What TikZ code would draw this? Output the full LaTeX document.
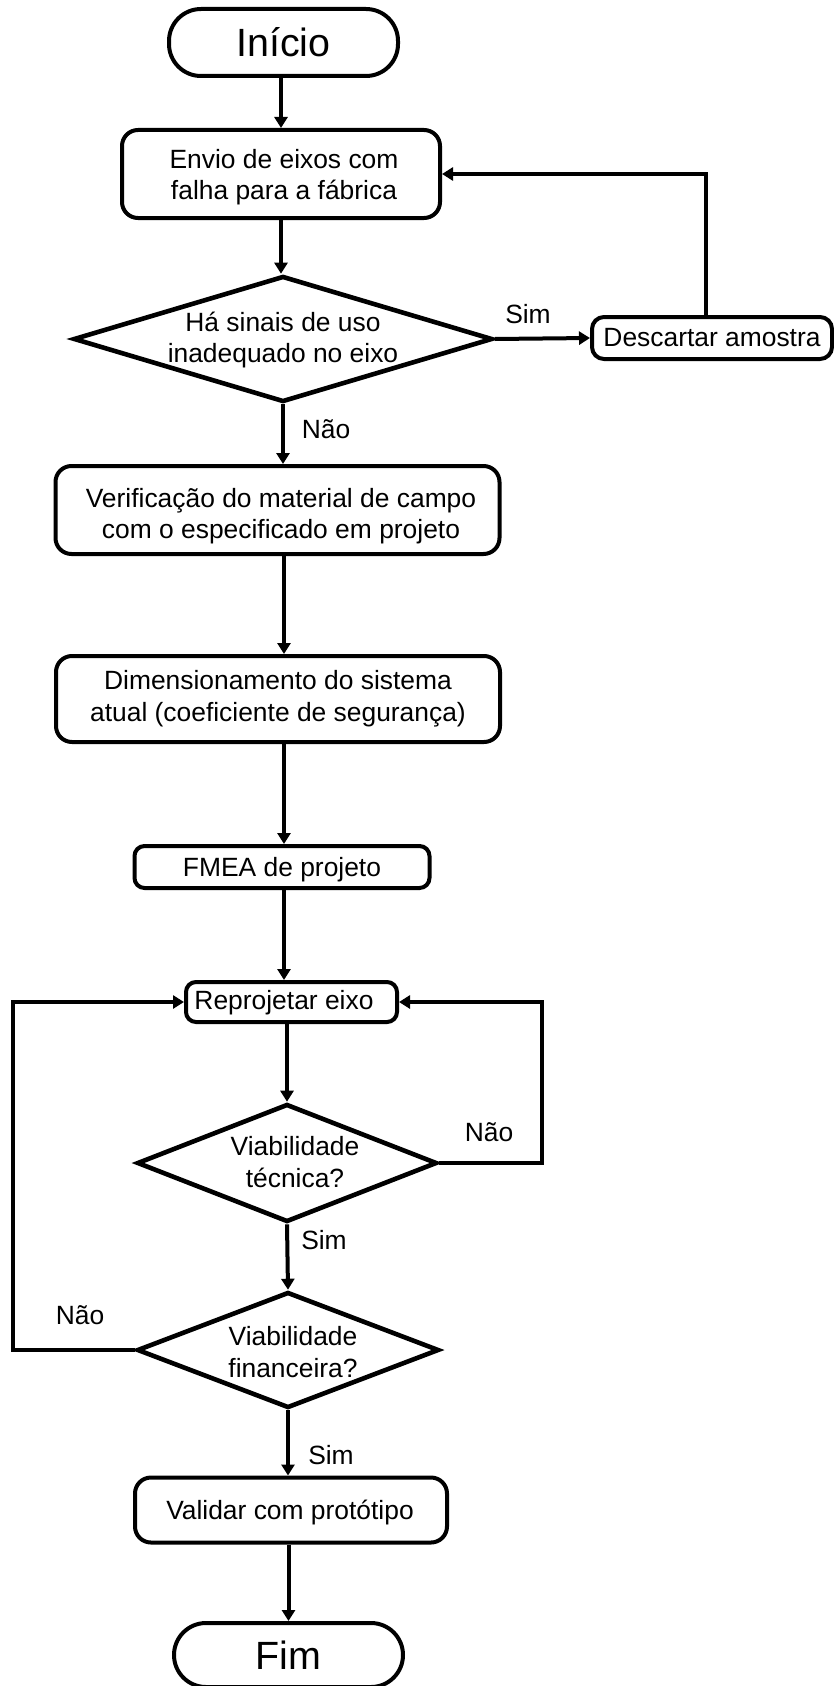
\documentclass[tikz,border=0pt]{standalone}
\usepackage{fontspec}
\setmainfont{Liberation Sans}
\usetikzlibrary{shapes.geometric,arrows.meta,calc}
\begin{document}
\begin{tikzpicture}[x=0.5pt,y=-0.5pt,
  txt/.style={font=\fontsize{13.2}{15.8}\selectfont,align=center,inner sep=0pt},
  big/.style={font=\fontsize{19.7}{23}\selectfont},
  box/.style={txt,draw,line width=2pt,rounded corners=8pt},
  term/.style={box,big,rounded corners=16pt},
  dec/.style={draw,diamond,line width=2.3pt,inner sep=0pt},
  conn/.style={line width=2pt,-{Triangle[length=5.5pt,width=6.5pt]}},
  lbl/.style={txt}]
\useasboundingbox (0,0) rectangle (834,1686);

\node[term,minimum width=114.5pt,minimum height=33.5pt] (inicio) at (283.5,42.5) {Início};
\node[box,minimum width=159pt,minimum height=44pt] (envio) at (281,174) {};
\node[txt] (enviot) at (284,177) {Envio de eixos com\\falha para a fábrica};
\node[dec,minimum width=209.5pt,minimum height=63pt] (d1) at (283,339) {};
\node[txt] (d1t) at (283,340) {Há sinais de uso\\inadequado no eixo};
\node[box,rounded corners=6pt,minimum width=120pt,minimum height=21pt] (desc) at (712,338) {Descartar amostra};
\node[box,minimum width=222pt,minimum height=44pt] (verif) at (277.5,510) {};
\node[txt] (verift) at (281,516) {Verificação do material de campo\\com o especificado em projeto};
\node[box,minimum width=222pt,minimum height=43pt] (dimen) at (278,699) {Dimensionamento do sistema\\atual (coeficiente de segurança)};
\node[box,rounded corners=5pt,minimum width=147.5pt,minimum height=21pt] (fmea) at (282,867) {};
\node[txt] (fmeat) at (282,870) {FMEA de projeto};
\node[box,rounded corners=5pt,minimum width=105.5pt,minimum height=20pt] (repro) at (291.5,1002) {};
\node[txt] (reprot) at (284,1003) {Reprojetar eixo};
\node[dec,minimum width=150pt,minimum height=59pt] (d2) at (287,1163) {};
\node[txt] (d2t) at (295,1162) {Viabilidade\\técnica?};
\node[dec,minimum width=151pt,minimum height=58pt] (d3) at (288,1350) {};
\node[txt] (d3t) at (293,1352) {Viabilidade\\financeira?};
\node[box,minimum width=156pt,minimum height=32.5pt] (valid) at (291,1510) {};
\node[txt] (validt) at (290,1513) {Validar com protótipo};
\node[term,minimum width=114.5pt,minimum height=32pt] (fim) at (288.5,1655) {Fim};

\node[lbl] (s1) at (528,314) {Sim};
\node[lbl] (n1) at (326,429) {Não};
\node[lbl] (n2) at (489,1132) {Não};
\node[lbl] (s2) at (324,1240) {Sim};
\node[lbl] (n3) at (80,1315) {Não};
\node[lbl] (s3) at (331,1455) {Sim};

\coordinate (ax) at (284,0);
\coordinate (fb) at (706,173);
\coordinate (lp) at (13,0);
\coordinate (rp) at (542,0);

\draw[conn] (inicio.south -| envio.north) -- (envio.north);
\draw[conn] (envio.south) -- (d1.north -| envio.south);
\draw[conn] (d1.south) -- (verif.north -| d1.south);
\draw[conn] (d1.east) -- (desc.west);
\draw[conn] (desc.north -| fb) |- (envio.east);
\draw[conn] (verif.south -| ax) -- (dimen.north -| ax);
\draw[conn] (dimen.south -| ax) -- (fmea.north -| ax);
\draw[conn] (fmea.south -| ax) -- (repro.north -| ax);
\draw[conn] (repro.south -| d2.north) -- (d2.north);
\draw[conn] (d2.south) -- (d3.north);
\draw[conn] (d2.east) -- (d2.east -| rp) |- (repro.east);
\draw[conn] (d3.west) -- (d3.west -| lp) |- (repro.west);
\draw[conn] (d3.south) -- (valid.north -| d3.south);
\draw[conn] (valid.south -| fim.north) -- (fim.north);
\end{tikzpicture}
\end{document}
